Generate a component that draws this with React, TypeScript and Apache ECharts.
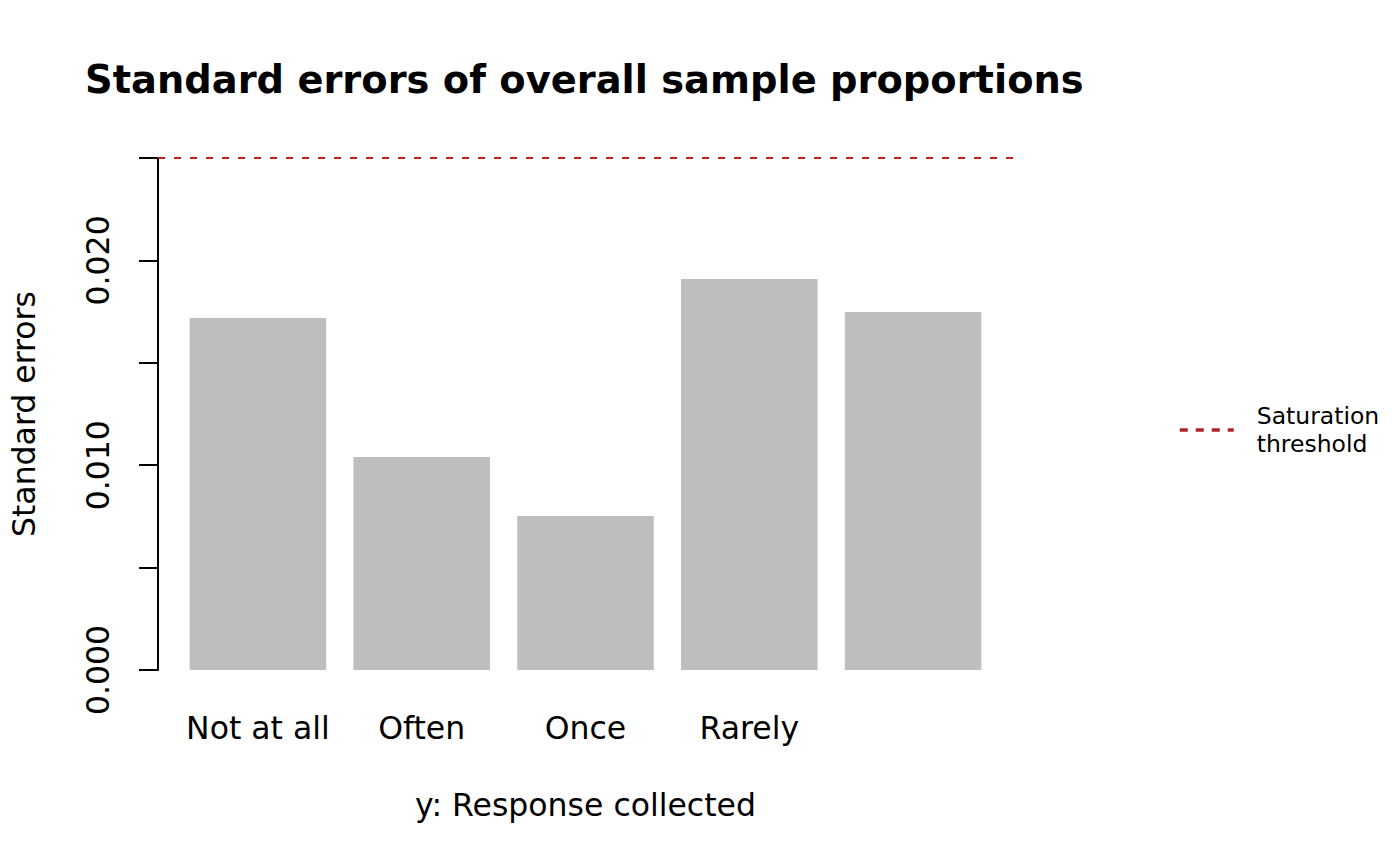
import React, { useEffect, useRef } from "react";
import * as echarts from "echarts";

// ---- data ----
const categories: string[] = ["Not at all", "Often", "Once", "Rarely", ""];
const standardErrors: number[] = [0.01719, 0.0104, 0.00752, 0.01909, 0.01748];
const saturationThreshold = 0.025;
const yTickValues: number[] = [0, 0.005, 0.01, 0.015, 0.02, 0.025];
const yTickLabels: string[] = ["0.000", "", "0.010", "", "0.020", ""];
const titleText = "Standard errors of overall sample proportions";
const xAxisTitle = "y: Response collected";
const yAxisTitle = "Standard errors";
const legendName = "Saturation\nthreshold";

// R barplot layout: bar width 1, space 0.2, 4% axis extension
const SPACE = 0.2;
const BAR_W = 1;
const barCenters = categories.map((_, i) => SPACE + i * (BAR_W + SPACE) + BAR_W / 2);
const leftEdge = SPACE;
const rightEdge = categories.length * (BAR_W + SPACE);
const ext = (rightEdge - leftEdge) * 0.04;
const xMin = leftEdge - ext;
const xMax = rightEdge + ext;

const FONT = "DejaVu Sans";
const AXIS_FS = 31.5;

export default function App() {
  const ref = useRef<HTMLDivElement>(null);

  useEffect(() => {
    if (!ref.current) return;
    const chart = echarts.init(ref.current, undefined, { renderer: "svg" });
    const option: any = {
      animation: false,
      backgroundColor: "#ffffff",
      textStyle: { fontFamily: FONT },
      title: {
        text: titleText,
        left: 80,
        top: 55,
        textStyle: {
          fontFamily: FONT,
          fontSize: 38.4,
          fontWeight: "bold",
          color: "#000000",
        },
      },
      grid: {
        left: 157,
        right: 1400 - 1013,
        top: 158,
        bottom: 866 - 670,
        containLabel: false,
      },
      legend: {
        left: 1178,
        top: 402,
        padding: 0,
        orient: "vertical",
        itemWidth: 54,
        itemHeight: 10,
        data: [
          {
            name: legendName,
            itemStyle: { opacity: 0 },
            lineStyle: { color: "#B22222", width: 3.5, type: [8, 8] },
          },
        ],
        textStyle: {
          fontFamily: FONT,
          fontSize: 23.5,
          lineHeight: 28,
          color: "#000000",
          padding: [0, 0, 0, 18],
        },
      },
      xAxis: {
        type: "value",
        min: xMin,
        max: xMax,
        name: xAxisTitle,
        nameLocation: "middle",
        nameGap: 119,
        nameTextStyle: { fontFamily: FONT, fontSize: AXIS_FS, color: "#000000" },
        axisLine: { show: false, onZero: false },
        axisTick: { show: false },
        splitLine: { show: false },
        axisLabel: {
          customValues: barCenters,
          margin: 42,
          fontFamily: FONT,
          fontSize: AXIS_FS,
          color: "#000000",
          formatter: (v: number) => {
            const i = barCenters.findIndex((c) => Math.abs(c - v) < 1e-6);
            return i >= 0 ? categories[i] : "";
          },
        },
      },
      yAxis: {
        type: "value",
        min: 0,
        max: 0.025,
        interval: 0.005,
        name: yAxisTitle,
        nameLocation: "middle",
        nameGap: 118,
        nameTextStyle: { fontFamily: FONT, fontSize: AXIS_FS, color: "#000000" },
        axisLine: { show: true, onZero: false, lineStyle: { color: "#000000", width: 2 } },
        axisTick: { show: true, length: 19, lineStyle: { color: "#000000", width: 2 } },
        splitLine: { show: false },
        axisLabel: {
          rotate: 90,
          margin: 44,
          fontFamily: FONT,
          fontSize: AXIS_FS,
          color: "#000000",
          formatter: (v: number) => {
            const i = yTickValues.findIndex((t) => Math.abs(t - v) < 1e-9);
            return i >= 0 ? yTickLabels[i] : "";
          },
        },
      },
      series: [
        {
          type: "bar",
          name: "se",
          data: barCenters.map((c, i) => [c, standardErrors[i]]),
          barWidth: 136.5,
          itemStyle: { color: "#BEBEBE" },
          silent: true,
        },
        {
          type: "line",
          name: legendName,
          data: [
            [xMin, saturationThreshold],
            [xMax, saturationThreshold],
          ],
          symbol: "none",
          lineStyle: { color: "#C42020", width: 2, type: [7, 9] },
          silent: true,
        },
      ],
    };
    chart.setOption(option);
    return () => chart.dispose();
  }, []);

  return (
    <div
      ref={ref}
      style={{ position: "fixed", left: 0, top: 0, width: 1400, height: 866, background: "#fff" }}
    />
  );
}
